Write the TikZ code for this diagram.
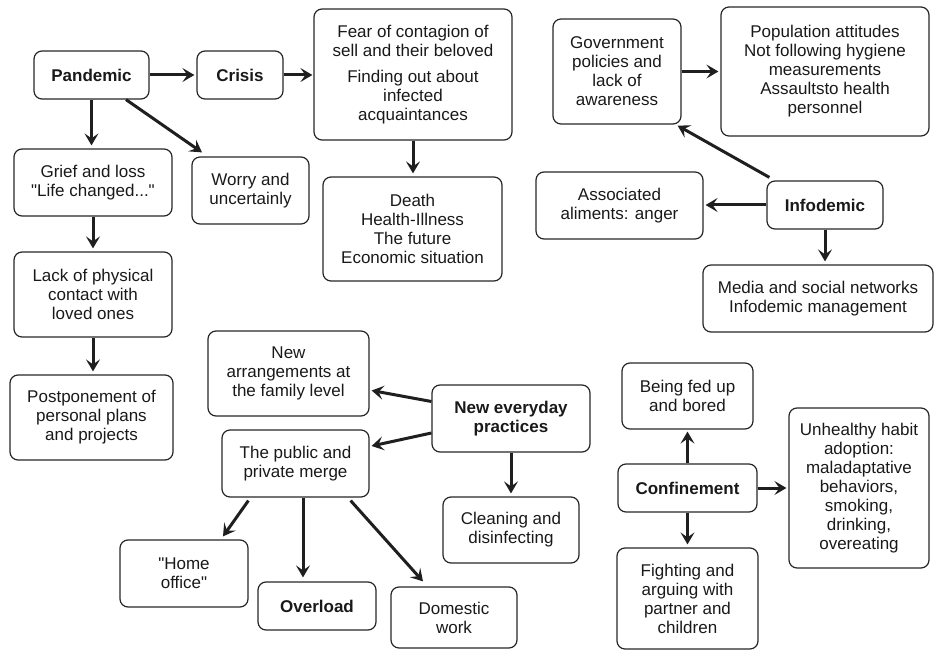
\documentclass[tikz,border=0pt]{standalone}
\usepackage{fontspec}
\setmainfont{Liberation Sans}[Ligatures=TeXOff]
\usetikzlibrary{arrows.meta}
\begin{document}
\begin{tikzpicture}[x=1pt,y=-1pt,
 box/.style={draw=black!85, line width=1.2pt, rounded corners=8pt, align=center, inner sep=0pt, font=\fontsize{17}{19}\selectfont, text=black!90},
 bbox/.style={box, font=\fontsize{17}{19}\selectfont\bfseries},
 arr/.style={line width=3pt, draw=black!88, -{Stealth[length=12pt,width=14pt,inset=5pt]}}]
\useasboundingbox (0,0) rectangle (935,652);
% nodes
\node[bbox, minimum width=115pt, minimum height=48pt] (pand) at (91.5,75) {Pandemic};
\node[bbox, minimum width=86pt, minimum height=48pt] (crisis) at (240,75) {Crisis};
\node[box, minimum width=198pt, minimum height=131pt] (fear) at (413,74.5) {Fear of contagion of\\sell and their beloved\\[7pt]Finding out about\\infected\\acquaintances};
\node[box, minimum width=128pt, minimum height=105pt] (gov) at (617,71.5) {Government\\policies and\\lack of\\awareness};
\node[box, minimum width=208pt, minimum height=129pt] (pop) at (825,71.5) {Population attitudes\\Not following hygiene\\measurements\\Assaultsto health\\personnel};
\node[box, minimum width=158pt, minimum height=67pt] (grief) at (93,182.5) {Grief and loss\\"Life changed..."};
\node[box, minimum width=117pt, minimum height=67pt] (worry) at (250.5,190.5) {Worry and\\uncertainly};
\node[box, minimum width=179pt, minimum height=104pt] (death) at (412.5,229) {Death\\Health-Illness\\The future\\Economic situation};
\node[box, minimum width=167pt, minimum height=67pt] (assoc) at (619.5,205.5) {Associated\\aliments: anger};
\node[bbox, minimum width=116pt, minimum height=48pt] (info) at (825,205) {Infodemic};
\node[box, minimum width=230pt, minimum height=67pt] (media) at (818,298.5) {Media and social networks\\Infodemic management};
\node[box, minimum width=158pt, minimum height=85pt] (lack) at (93,294.5) {Lack of physical\\contact with\\loved ones};
\node[box, minimum width=163pt, minimum height=85pt] (post) at (91.5,417.5) {Postponement of\\personal plans\\and projects};
\node[box, minimum width=161pt, minimum height=85pt] (newarr) at (288.5,373.5) {New\\arrangements at\\the family level};
\node[box, minimum width=147pt, minimum height=67pt] (public) at (295.5,463.5) {The public and\\private merge};
\node[bbox, minimum width=158pt, minimum height=67pt] (neweve) at (511,418.5) {New everyday\\practices};
\node[box, minimum width=136pt, minimum height=66pt] (clean) at (511,530) {Cleaning and\\disinfecting};
\node[box, minimum width=128pt, minimum height=67pt] (home) at (184,573.5) {"Home\\office"};
\node[bbox, minimum width=118pt, minimum height=48pt] (overload) at (317,606) {Overload};
\node[box, minimum width=126pt, minimum height=61pt] (domestic) at (454,617.5) {Domestic\\work};
\node[box, minimum width=131pt, minimum height=66pt] (fed) at (687.5,396) {Being fed up\\and bored};
\node[bbox, minimum width=139pt, minimum height=48pt] (conf) at (687.5,488) {Confinement};
\node[box, minimum width=141pt, minimum height=101pt] (fight) at (687.5,598.5) {Fighting and\\arguing with\\partner and\\children};
\node[box, minimum width=140pt, minimum height=160pt] (unh) at (859,488) {Unhealthy habit\\adoption:\\maladaptative\\behaviors,\\smoking,\\drinking,\\overeating};
% connectors
\draw[arr] (pand.east) -- ([xshift=-2pt]crisis.west);
\draw[arr] (crisis.east) -- ([xshift=-1pt]crisis.east -| fear.west);
\draw[arr] (pand.south) -- ([yshift=3pt]pand.south |- grief.north);
\draw[arr] ([xshift=34.5pt]pand.south) -- ([xshift=-48.5pt,yshift=4pt]worry.north);
\draw[arr] (fear.south) -- ([yshift=3pt]fear.south |- death.north);
\draw[arr] (gov.east) -- ([xshift=-2pt]gov.east -| pop.west);
\draw[arr] ([xshift=3pt,yshift=3pt]info.north west) -- ([xshift=-4pt,yshift=-1pt]gov.south east);
\draw[arr] (info.west) -- ([xshift=2pt]info.west -| assoc.east);
\draw[arr] (info.south) -- ([yshift=3pt]info.south |- media.north);
\draw[arr] (grief.south) -- ([yshift=3pt]grief.south |- lack.north);
\draw[arr] (lack.south) -- ([yshift=3pt]lack.south |- post.north);
\draw[arr] ([yshift=17pt]neweve.west) -- ([xshift=2pt,yshift=-17pt]newarr.east);
\draw[arr] ([yshift=-14.5pt]neweve.west) -- ([xshift=2pt,yshift=17.5pt]public.east);
\draw[arr] (neweve.south) -- ([yshift=3pt]neweve.south |- clean.north);
\draw[arr] ([xshift=27pt,yshift=-3pt]public.south west) -- ([xshift=39pt,yshift=3pt]home.north);
\draw[arr] ([xshift=7.5pt]public.south) -- ([xshift=-14pt,yshift=4pt]overload.north);
\draw[arr] ([xshift=-19pt,yshift=-3pt]public.south east) -- ([xshift=-31pt,yshift=5pt]domestic.north);
\draw[arr] (conf.north) -- ([yshift=-2pt]fed.south);
\draw[arr] (conf.south) -- ([yshift=3pt]fight.north);
\draw[arr] (conf.east) -- ([xshift=-2pt]conf.east -| unh.west);
\end{tikzpicture}
\end{document}
